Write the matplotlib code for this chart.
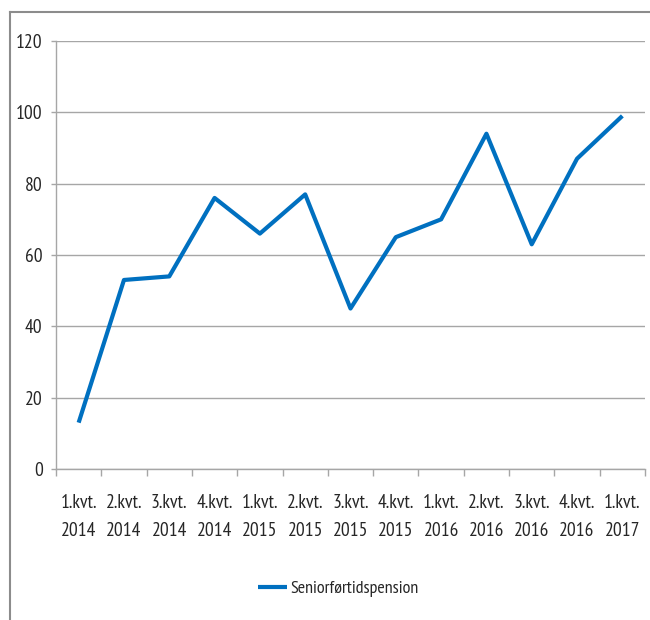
import matplotlib
matplotlib.use("Agg")
import matplotlib.pyplot as plt
from matplotlib.lines import Line2D
from matplotlib.ticker import FixedLocator

plt.rcParams['font.family'] = ['PT Sans Narrow', 'Liberation Sans', 'DejaVu Sans']

# data
quarters = ['1.kvt.', '2.kvt.', '3.kvt.', '4.kvt.', '1.kvt.', '2.kvt.', '3.kvt.',
            '4.kvt.', '1.kvt.', '2.kvt.', '3.kvt.', '4.kvt.', '1.kvt.']
years = ['2014', '2014', '2014', '2014', '2015', '2015', '2015',
         '2015', '2016', '2016', '2016', '2016', '2017']
values = [13, 53, 54, 76, 66, 77, 45, 65, 70, 94, 63, 87, 99]
series_name = 'Seniorførtidspension'
y_ticks = [0, 20, 40, 60, 80, 100, 120]

text_col = '#262626'
grid_col = '#a6a6a6'
line_col = '#0070c0'
fs = 14

fig = plt.figure(figsize=(6.5, 6.2), dpi=100)
ax = fig.add_axes([56 / 650, 1 - 469 / 620, (645 - 56) / 650, (469 - 41) / 620])

x = list(range(len(values)))
ax.plot(x, values, color=line_col, lw=3, solid_joinstyle='round',
        solid_capstyle='butt', label=series_name)

ax.set_xlim(-0.5, len(values) - 0.5)
ax.set_ylim(0, 120)
ax.set_yticks(y_ticks)
ax.set_yticklabels([str(v) for v in y_ticks])
ax.grid(axis='y', color=grid_col, lw=1)
ax.set_axisbelow(True)

ax.set_xticks(x)
ax.set_xticklabels([f'{q}\n{y}' for q, y in zip(quarters, years)], linespacing=1.75)
ax.xaxis.set_minor_locator(FixedLocator([i - 0.5 for i in range(len(values) + 1)]))
ax.tick_params(axis='x', which='major', length=0, pad=18, labelsize=fs, labelcolor=text_col)
ax.tick_params(axis='x', which='minor', length=5, color=grid_col, width=1)
ax.tick_params(axis='y', length=3.6, color=grid_col, width=1, pad=6, labelsize=fs,
               labelcolor=text_col)

for side in ['top', 'right']:
    ax.spines[side].set_visible(False)
for side in ['left', 'bottom']:
    ax.spines[side].set_color(grid_col)
    ax.spines[side].set_linewidth(1)

# outer frame (top and left edges only)
fig.add_artist(Line2D([10 / 650, 10 / 650], [0, 1 - 12 / 620], color='#8c8c8c', lw=1.5))
fig.add_artist(Line2D([10 / 650, 1], [1 - 12 / 620, 1 - 12 / 620], color='#8c8c8c', lw=1.5))

leg = fig.legend(loc='center', bbox_to_anchor=(338 / 650, 1 - 589 / 620), frameon=False,
                 handlelength=1.65, handletextpad=0.15, fontsize=13)
for t in leg.get_texts():
    t.set_color(text_col)

fig.savefig('out.png', dpi=100)
